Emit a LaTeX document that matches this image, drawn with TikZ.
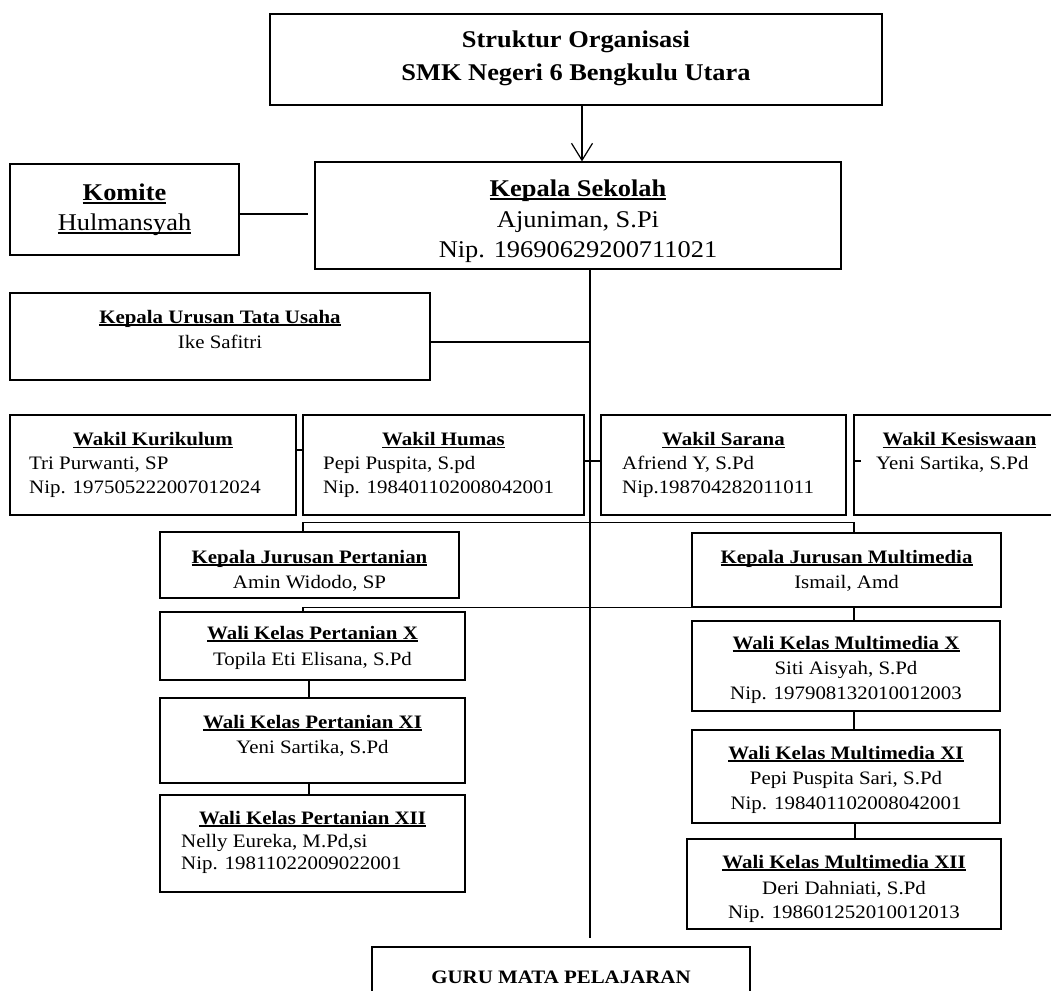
\documentclass[tikz,border=0pt]{standalone}
\usepackage{fontspec}
\setmainfont{Liberation Serif}[FakeStretch=1.1]
\usetikzlibrary{arrows.meta}
\newcommand{\myul}[1]{\setbox0=\hbox{#1}\leavevmode\rlap{\rule[-0.14em]{\wd0}{0.07em}}\box0}
\newcommand{\bx}[5]{\node[box, minimum width={(#4-#2)*1pt}, minimum height={(#5-#3)*1pt}] (#1) at ({(#2+#4)/2},{(#3+#5)/2}) {};}
\tikzset{
  box/.style={draw, line width=1.2pt, inner sep=0pt, rectangle},
  big/.style={font=\fontsize{24}{30}\selectfont, inner sep=0pt},
  sm/.style={font=\fontsize{19}{23}\selectfont, inner sep=0pt},
  ln/.style={line width=1.2pt},
}
\begin{document}
\begin{tikzpicture}[x=1pt,y=-1pt]
\useasboundingbox (0,0) rectangle (1051,990);
% boxes
\bx{title}{270}{14}{882}{105}
\bx{ks}{315}{162}{841}{269}
\bx{kom}{10}{164}{239}{255}
\bx{tu}{10}{293}{430}{380}
\bx{wk}{10}{415}{296}{515}
\bx{wh}{303}{415}{584}{515}
\bx{ws}{601}{415}{846}{515}
\bx{wks}{854}{415}{1065}{515}
\bx{kjp}{160}{532}{459}{598}
\bx{kjm}{692}{533}{1001}{607}
\bx{wpx}{160}{612}{465}{680}
\bx{wpxi}{160}{698}{465}{783}
\bx{wpxii}{160}{795}{465}{892}
\bx{wmx}{692}{621}{1000}{711}
\bx{wmxi}{692}{730}{1000}{823}
\bx{wmxii}{687}{839}{1001}{929}
\bx{guru}{372}{947}{750}{1000}
% texts
\node[big, anchor=base] (title1) at (576,47.5) {\bfseries Struktur Organisasi};
\node[big, anchor=base] (title2) at (576,80.5) {\bfseries SMK Negeri 6 Bengkulu Utara};
\node[big, anchor=base] (ks1) at (578,196.5) {\bfseries\myul{Kepala Sekolah}};
\node[big, anchor=base] (ks2) at (578,227.5) {Ajuniman, S.Pi};
\node[big, anchor=base] (ks3) at (578,257.5) {Nip. 19690629200711021};
\node[big, anchor=base] (kom1) at (124.5,200.5) {\bfseries\myul{Komite}};
\node[big, anchor=base] (kom2) at (124.5,230.5) {\myul{Hulmansyah}};
\node[sm, anchor=base] (tu1) at (220,323) {\bfseries\myul{Kepala Urusan Tata Usaha}};
\node[sm, anchor=base] (tu2) at (220,348) {Ike Safitri};
\node[sm, anchor=base] (wk1) at (153,445.5) {\bfseries\myul{Wakil Kurikulum}};
\node[sm, anchor=base west] (wk2) at (29,469) {Tri Purwanti, SP};
\node[sm, anchor=base west] (wk3) at (29,493) {Nip. 197505222007012024};
\node[sm, anchor=base] (wh1) at (443.5,445.5) {\bfseries\myul{Wakil Humas}};
\node[sm, anchor=base west] (wh2) at (323,469) {Pepi Puspita, S.pd};
\node[sm, anchor=base west] (wh3) at (323,493) {Nip. 198401102008042001};
\node[sm, anchor=base] (ws1) at (723.5,445.5) {\bfseries\myul{Wakil Sarana}};
\node[sm, anchor=base west] (ws2) at (622,469) {Afriend Y, S.Pd};
\node[sm, anchor=base west] (ws3) at (622,493) {Nip.198704282011011};
\node[sm, anchor=base] (wks1) at (959.5,445.5) {\bfseries\myul{Wakil Kesiswaan}};
\node[sm, anchor=base west] (wks2) at (876,469) {Yeni Sartika, S.Pd};
\node[sm, anchor=base] (kjp1) at (309.5,563) {\bfseries\myul{Kepala Jurusan Pertanian}};
\node[sm, anchor=base] (kjp2) at (309.5,588) {Amin Widodo, SP};
\node[sm, anchor=base] (kjm1) at (846.5,563) {\bfseries\myul{Kepala Jurusan Multimedia}};
\node[sm, anchor=base] (kjm2) at (846.5,588) {Ismail, Amd};
\node[sm, anchor=base] (wpx1) at (312.5,639) {\bfseries\myul{Wali Kelas Pertanian X}};
\node[sm, anchor=base] (wpx2) at (312.5,665) {Topila Eti Elisana, S.Pd};
\node[sm, anchor=base] (wpxi1) at (312.5,728) {\bfseries\myul{Wali Kelas Pertanian XI}};
\node[sm, anchor=base] (wpxi2) at (312.5,753) {Yeni Sartika, S.Pd};
\node[sm, anchor=base] (wpxii1) at (312.5,824) {\bfseries\myul{Wali Kelas Pertanian XII}};
\node[sm, anchor=base west] (wpxii2) at (181,847) {Nelly Eureka, M.Pd,si};
\node[sm, anchor=base west] (wpxii3) at (181,869) {Nip. 19811022009022001};
\node[sm, anchor=base] (wmx1) at (846,649) {\bfseries\myul{Wali Kelas Multimedia X}};
\node[sm, anchor=base] (wmx2) at (846,674) {Siti Aisyah, S.Pd};
\node[sm, anchor=base] (wmx3) at (846,699) {Nip. 197908132010012003};
\node[sm, anchor=base] (wmxi1) at (846,759) {\bfseries\myul{Wali Kelas Multimedia XI}};
\node[sm, anchor=base] (wmxi2) at (846,784) {Pepi Puspita Sari, S.Pd};
\node[sm, anchor=base] (wmxi3) at (846,809) {Nip. 198401102008042001};
\node[sm, anchor=base] (wmxii1) at (844,868) {\bfseries\myul{Wali Kelas Multimedia XII}};
\node[sm, anchor=base] (wmxii2) at (844,894) {Deri Dahniati, S.Pd};
\node[sm, anchor=base] (wmxii3) at (844,918) {Nip. 198601252010012013};
\node[sm, anchor=base] (guru1) at (561,983) {\bfseries GURU MATA PELAJARAN};
% connectors
\coordinate (mainend) at (590,938);
\draw[ln, -{Straight Barb[length=17pt,width=21pt]}] ([xshift=6pt]title.south) -- ([xshift=4pt]ks.north);
\draw[ln] ([yshift=-4.5pt]kom.east) -- ([xshift=-6pt,yshift=1.5pt]ks.west);
\draw[ln] ([xshift=12pt]ks.south) -- (mainend);
\coordinate (tuc) at ([yshift=-5.5pt]tu.east);
\draw[ln] (tuc) -- (tuc -| mainend);
\draw[ln] ([yshift=15pt]wk.east) -- ([yshift=15pt]wh.west);
\draw[ln] ([yshift=4pt]wh.east) -- ([yshift=4pt]ws.west);
\draw[ln] ([yshift=4pt]wks.west) -- ([yshift=4pt,xshift=8pt]wks.west);
\draw[ln] ([xshift=-6.5pt]kjp.north) -- ++(0,-9) -| ([xshift=7.5pt]kjm.north);
\draw[ln] ([xshift=-9.5pt]wpx.north) -- ++(0,-4) -| ([xshift=8pt]wmx.north);
\draw[ln] ([xshift=-3.5pt]wpx.south) -- ([xshift=-3.5pt]wpxi.north);
\draw[ln] ([xshift=-3.5pt]wpxi.south) -- ([xshift=-3.5pt]wpxii.north);
\draw[ln] ([xshift=8pt]wmx.south) -- ([xshift=8pt]wmxi.north);
\draw[ln] ([xshift=9pt]wmxi.south) -- ([xshift=11pt]wmxii.north);
\end{tikzpicture}
\end{document}
